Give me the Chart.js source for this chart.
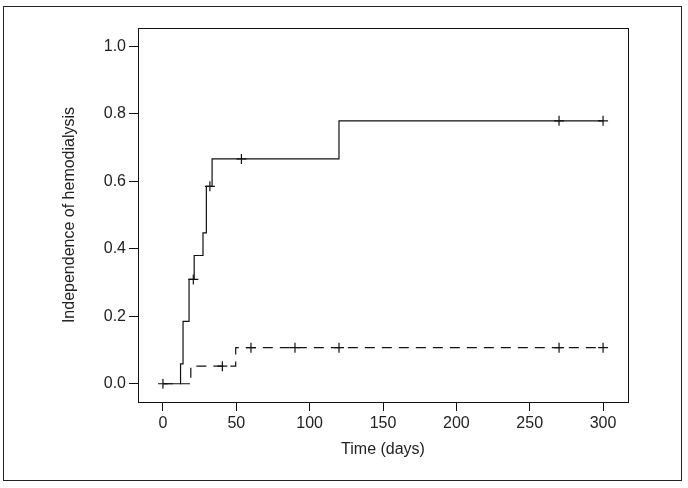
<!DOCTYPE html>
<html>
<head>
<meta charset="utf-8">
<script src="https://cdn.jsdelivr.net/npm/chart.js@4/dist/chart.umd.min.js"></script>
<style>
  html, body { margin: 0; padding: 0; background: #fff; }
  #frame { position: absolute; left: 3px; top: 6px; width: 679px; height: 475px; box-sizing: border-box; border: 1px solid #222; }
  #chart { position: absolute; left: 0; top: 0; }
</style>
</head>
<body>
<div id="frame"></div>
<canvas id="chart" width="688" height="488"></canvas>
<script>
// Kaplan-Meier style curves
const solidTimes = [0, 12, 13.7, 17.8, 21.3, 27.3, 29.6, 33.5, 120, 300];
const solidValues = [0, 0.059, 0.185, 0.309, 0.38, 0.447, 0.585, 0.666, 0.779, 0.779];
const dashedTimes = [0, 19, 49.6, 300];
const dashedValues = [0, 0.052, 0.107, 0.107];

// censor marks (+)
const solidCensorTimes = [0, 20.7, 32, 53.5, 270, 300];
const solidCensorValues = [0, 0.309, 0.585, 0.666, 0.779, 0.779];
const dashedCensorTimes = [40.5, 60, 90, 120, 270, 300];
const dashedCensorValues = [0.052, 0.107, 0.107, 0.107, 0.107, 0.107];

const xTicks = [0, 50, 100, 150, 200, 250, 300];
const yTicks = [0, 0.2, 0.4, 0.6, 0.8, 1.0];

const xTitle = "Time (days)";
const yTitle = "Independence of hemodialysis";

function toPoints(xs, ys) {
  return xs.map((x, i) => ({ x: x, y: ys[i] }));
}

const boxPlugin = {
  id: "plotBox",
  afterDraw(chart) {
    const a = chart.chartArea;
    const ctx = chart.ctx;
    ctx.save();
    ctx.strokeStyle = "#111";
    ctx.lineWidth = 1;
    ctx.strokeRect(Math.round(a.left) + 0.5, Math.round(a.top) + 0.5,
      Math.round(a.right - a.left), Math.round(a.bottom - a.top));
    ctx.restore();
  }
};

const font = { family: "'Liberation Sans', Arial, sans-serif", size: 16 };

const ctx = document.getElementById("chart").getContext("2d");
new Chart(ctx, {
  type: "scatter",
  data: {
    datasets: [
      {
        data: toPoints(solidTimes, solidValues),
        showLine: true,
        stepped: "before",
        borderColor: "#111",
        borderWidth: 1.2,
        pointRadius: 0,
        fill: false
      },
      {
        data: toPoints(dashedTimes, dashedValues),
        showLine: true,
        stepped: "before",
        borderColor: "#111",
        borderWidth: 1.2,
        borderDash: [10, 7],
        pointRadius: 0,
        fill: false
      },
      {
        data: toPoints(solidCensorTimes, solidCensorValues),
        showLine: false,
        pointStyle: "cross",
        pointRadius: 5,
        borderColor: "#111",
        borderWidth: 1.2
      },
      {
        data: toPoints(dashedCensorTimes, dashedCensorValues),
        showLine: false,
        pointStyle: "cross",
        pointRadius: 5,
        borderColor: "#111",
        borderWidth: 1.2
      }
    ]
  },
  options: {
    responsive: false,
    animation: false,
    layout: { padding: { left: 0, top: 28, right: 60, bottom: 0 } },
    plugins: {
      legend: { display: false },
      tooltip: { enabled: false }
    },
    scales: {
      x: {
        type: "linear",
        min: -17,
        max: 317,
        afterBuildTicks: (scale) => { scale.ticks = xTicks.map(v => ({ value: v })); },
        afterFit: (scale) => { scale.height = 86; },
        border: { display: false },
        grid: { drawOnChartArea: false, drawTicks: true, tickLength: 9, tickColor: "#111", lineWidth: 1 },
        ticks: { color: "#222", font: font, padding: 3, maxRotation: 0 },
        title: { display: true, text: xTitle, color: "#222", font: font, padding: { top: 0, bottom: 29 } }
      },
      y: {
        type: "linear",
        min: -0.054,
        max: 1.054,
        afterBuildTicks: (scale) => { scale.ticks = yTicks.map(v => ({ value: v })); },
        afterFit: (scale) => { scale.width = 138; },
        border: { display: false },
        grid: { drawOnChartArea: false, drawTicks: true, tickLength: 9, tickColor: "#111", lineWidth: 1 },
        ticks: { color: "#222", font: font, padding: 3, callback: (v) => Number(v).toFixed(1) },
        title: { display: true, text: yTitle, color: "#222", font: font, padding: { top: 60, bottom: 0 } }
      }
    }
  },
  plugins: [boxPlugin]
});
</script>
</body>
</html>
